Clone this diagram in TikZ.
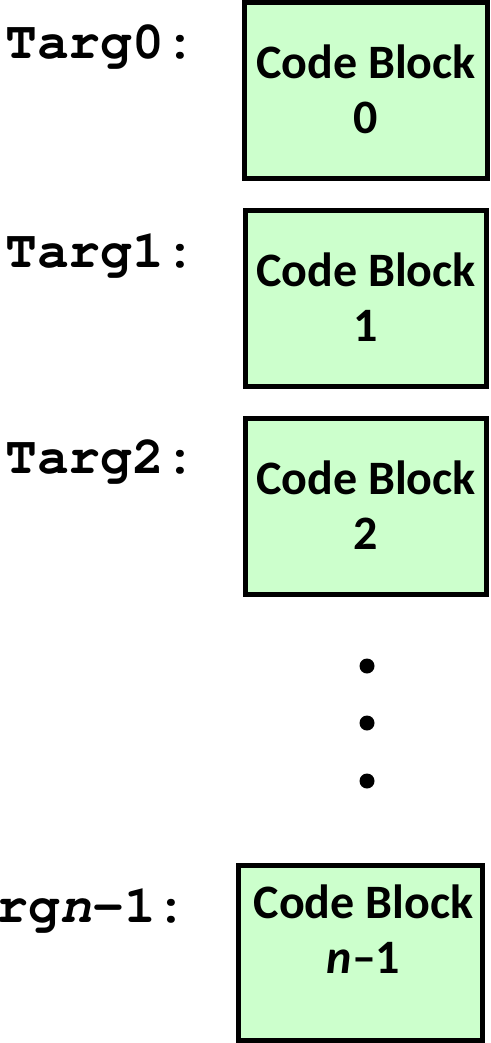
\documentclass[tikz,border=0pt]{standalone}
\usepackage{fontspec}
\newfontfamily\boxfont{Carlito}
\newcommand{\courlab}{\fontencoding{T1}\fontfamily{pcr}\fontseries{b}\selectfont}
\definecolor{blockgreen}{HTML}{CCFFCC}
\begin{document}
\begin{tikzpicture}[x=1pt,y=-1pt,
  block/.style={draw=black, line width=5pt, fill=blockgreen, inner sep=0pt, outer sep=0pt},
  blocktext/.style={inner sep=0pt, align=center, font=\boxfont\bfseries\fontsize{48}{55}\selectfont},
  lab/.style={inner sep=0pt, font=\courlab\fontsize{53}{60}\selectfont},
  dot/.style={circle, fill=black, inner sep=0pt, minimum size=15pt}]
\clip (0,0) rectangle (490,1043);
\useasboundingbox (0,0) rectangle (490,1043);
% blocks
\node[block, minimum width=243pt, minimum height=176pt] (b0) at (366,90.5) {};
\node[block, minimum width=241pt, minimum height=176pt] (b1) at (366,298.5) {};
\node[block, minimum width=241pt, minimum height=176pt] (b2) at (366,506.5) {};
\node[block, minimum width=244pt, minimum height=175pt] (b3) at (360.5,953) {};
% block texts
\node[blocktext] (t0) at (366,89) {Code Block\\0};
\node[blocktext] (t1) at (366,297) {Code Block\\1};
\node[blocktext] (t2) at (366,505) {Code Block\\2};
\node[blocktext] (t3) at (363.5,929.5) {Code Block\\\textit{n}–1};
% labels
\node[lab, anchor=base west] (l0) at (5,59) {Targ0:};
\node[lab, anchor=base west] (l1) at (5,267) {Targ1:};
\node[lab, anchor=base west] (l2) at (5,473) {Targ2:};
\node[lab, anchor=base east] (l3) at (188,922) {Targ{\fontshape{sl}\selectfont n}-1:};
% dots
\node[dot] (d0) at (367,666) {};
\node[dot] (d1) at (367,723) {};
\node[dot] (d2) at (367,781) {};
\end{tikzpicture}
\end{document}
